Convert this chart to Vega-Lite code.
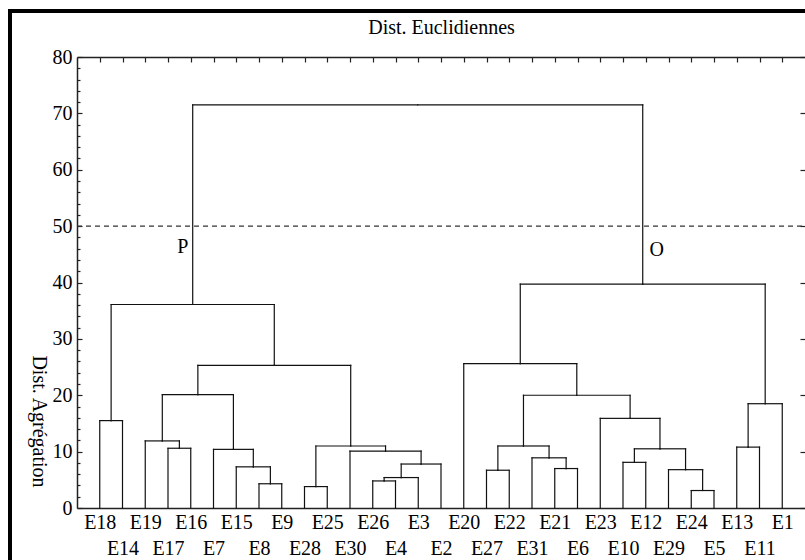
{
  "$schema": "https://vega.github.io/schema/vega-lite/v6.json",
  "autosize": {"type": "none"},
  "padding": {"left": 10, "top": 11, "right": 0, "bottom": 0},
  "width": 810,
  "height": 560,
  "background": "white",
  "config": {
    "view": {"stroke": "black", "strokeWidth": 4},
    "font": "Liberation Serif",
    "style": {"guide-label": {"font": "Liberation Serif", "fontSize": 20, "fill": "black"}, "guide-title": {"font": "Liberation Serif", "fontSize": 20, "fontWeight": "normal", "fill": "black"}},
    "axis": {
      "grid": false,
      "labelFont": "Liberation Serif",
      "labelFontSize": 20,
      "labelColor": "black",
      "titleFont": "Liberation Serif",
      "titleFontSize": 20,
      "titleFontWeight": "normal",
      "titleColor": "black",
      "domainColor": "#222",
      "domainWidth": 1.5,
      "tickColor": "#222",
      "tickWidth": 1.2,
      "labelFlush": false,
      "labelBound": false,
      "labelOverlap": false
    }
  },
  "datasets": {
    "links": [
      {"node": "E18", "cx": 1, "ch": 0, "px": 1.5, "ph": 15.5},
      {"node": "E14", "cx": 2, "ch": 0, "px": 1.5, "ph": 15.5},
      {"node": "E19", "cx": 3, "ch": 0, "px": 3.75, "ph": 11.9},
      {"node": "E17", "cx": 4, "ch": 0, "px": 4.5, "ph": 10.6},
      {"node": "E16", "cx": 5, "ch": 0, "px": 4.5, "ph": 10.6},
      {"node": "E7", "cx": 6, "ch": 0, "px": 6.875, "ph": 10.4},
      {"node": "E15", "cx": 7, "ch": 0, "px": 7.75, "ph": 7.3},
      {"node": "E8", "cx": 8, "ch": 0, "px": 8.5, "ph": 4.3},
      {"node": "E9", "cx": 9, "ch": 0, "px": 8.5, "ph": 4.3},
      {"node": "E28", "cx": 10, "ch": 0, "px": 10.5, "ph": 3.8},
      {"node": "E25", "cx": 11, "ch": 0, "px": 10.5, "ph": 3.8},
      {"node": "E30", "cx": 12, "ch": 0, "px": 13.5625, "ph": 10.1},
      {"node": "E26", "cx": 13, "ch": 0, "px": 13.5, "ph": 4.8},
      {"node": "E4", "cx": 14, "ch": 0, "px": 13.5, "ph": 4.8},
      {"node": "E3", "cx": 15, "ch": 0, "px": 14.25, "ph": 5.4},
      {"node": "E2", "cx": 16, "ch": 0, "px": 15.125, "ph": 7.8},
      {"node": "E20", "cx": 17, "ch": 0, "px": 19.484375, "ph": 25.6},
      {"node": "E27", "cx": 18, "ch": 0, "px": 18.5, "ph": 6.7},
      {"node": "E22", "cx": 19, "ch": 0, "px": 18.5, "ph": 6.7},
      {"node": "E31", "cx": 20, "ch": 0, "px": 20.75, "ph": 8.9},
      {"node": "E21", "cx": 21, "ch": 0, "px": 21.5, "ph": 7.0},
      {"node": "E6", "cx": 22, "ch": 0, "px": 21.5, "ph": 7.0},
      {"node": "E23", "cx": 23, "ch": 0, "px": 24.3125, "ph": 15.9},
      {"node": "E10", "cx": 24, "ch": 0, "px": 24.5, "ph": 8.1},
      {"node": "E12", "cx": 25, "ch": 0, "px": 24.5, "ph": 8.1},
      {"node": "E29", "cx": 26, "ch": 0, "px": 26.75, "ph": 6.8},
      {"node": "E24", "cx": 27, "ch": 0, "px": 27.5, "ph": 3.1},
      {"node": "E5", "cx": 28, "ch": 0, "px": 27.5, "ph": 3.1},
      {"node": "E13", "cx": 29, "ch": 0, "px": 29.5, "ph": 10.8},
      {"node": "E11", "cx": 30, "ch": 0, "px": 29.5, "ph": 10.8},
      {"node": "E1", "cx": 31, "ch": 0, "px": 30.25, "ph": 18.5},
      {"node": "a", "cx": 8.5, "ch": 4.3, "px": 7.75, "ph": 7.3},
      {"node": "b", "cx": 7.75, "ch": 7.3, "px": 6.875, "ph": 10.4},
      {"node": "c", "cx": 6.875, "ch": 10.4, "px": 5.3125, "ph": 20.1},
      {"node": "d", "cx": 4.5, "ch": 10.6, "px": 3.75, "ph": 11.9},
      {"node": "e", "cx": 3.75, "ch": 11.9, "px": 5.3125, "ph": 20.1},
      {"node": "f", "cx": 5.3125, "ch": 20.1, "px": 8.671875, "ph": 25.3},
      {"node": "g", "cx": 10.5, "ch": 3.8, "px": 12.03125, "ph": 11.0},
      {"node": "h", "cx": 13.5, "ch": 4.8, "px": 14.25, "ph": 5.4},
      {"node": "i", "cx": 14.25, "ch": 5.4, "px": 15.125, "ph": 7.8},
      {"node": "j", "cx": 15.125, "ch": 7.8, "px": 13.5625, "ph": 10.1},
      {"node": "k", "cx": 13.5625, "ch": 10.1, "px": 12.03125, "ph": 11.0},
      {"node": "l", "cx": 12.03125, "ch": 11.0, "px": 8.671875, "ph": 25.3},
      {"node": "m", "cx": 8.671875, "ch": 25.3, "px": 5.0859375, "ph": 36.1},
      {"node": "n", "cx": 1.5, "ch": 15.5, "px": 5.0859375, "ph": 36.1},
      {"node": "P", "cx": 5.0859375, "ch": 36.1, "px": 14.9765625, "ph": 71.5},
      {"node": "q", "cx": 18.5, "ch": 6.7, "px": 19.625, "ph": 11.0},
      {"node": "r", "cx": 21.5, "ch": 7.0, "px": 20.75, "ph": 8.9},
      {"node": "s", "cx": 20.75, "ch": 8.9, "px": 19.625, "ph": 11.0},
      {"node": "t", "cx": 19.625, "ch": 11.0, "px": 21.96875, "ph": 20.0},
      {"node": "u", "cx": 27.5, "ch": 3.1, "px": 26.75, "ph": 6.8},
      {"node": "v", "cx": 26.75, "ch": 6.8, "px": 25.625, "ph": 10.5},
      {"node": "w", "cx": 24.5, "ch": 8.1, "px": 25.625, "ph": 10.5},
      {"node": "x", "cx": 25.625, "ch": 10.5, "px": 24.3125, "ph": 15.9},
      {"node": "y", "cx": 24.3125, "ch": 15.9, "px": 21.96875, "ph": 20.0},
      {"node": "z", "cx": 21.96875, "ch": 20.0, "px": 19.484375, "ph": 25.6},
      {"node": "aa", "cx": 19.484375, "ch": 25.6, "px": 24.8671875, "ph": 39.7},
      {"node": "bb", "cx": 29.5, "ch": 10.8, "px": 30.25, "ph": 18.5},
      {"node": "cc", "cx": 30.25, "ch": 18.5, "px": 24.8671875, "ph": 39.7},
      {"node": "O", "cx": 24.8671875, "ch": 39.7, "px": 14.9765625, "ph": 71.5}
    ],
    "notes": [
      {"label": "P", "x": 4.65, "y": 46.3},
      {"label": "O", "x": 25.48, "y": 45.8}
    ],
    "cut": [
      {"from": 0, "to": 32, "h": 50}
    ]
  },
  "layer": [
    {
      "data": {"name": "links"},
      "mark": {"type": "rule", "color": "#111", "strokeWidth": 1.2, "strokeCap": "square"},
      "encoding": {
        "x": {
          "field": "cx", "type": "quantitative",
          "scale": {"domain": [0, 32], "range": [67, 795], "nice": false, "zero": false},
          "axis": {
            "orient": "bottom", "offset": -63, "title": null,
            "values": [1,2,3,4,5,6,7,8,9,10,11,12,13,14,15,16,17,18,19,20,21,22,23,24,25,26,27,28,29,30,31],
            "labelExpr": "['E18','E14','E19','E17','E16','E7','E15','E8','E9','E28','E25','E30','E26','E4','E3','E2','E20','E27','E22','E31','E21','E6','E23','E10','E12','E29','E24','E5','E13','E11','E1'][datum.value - 1]",
            "ticks": false, "tickSize": 0,
            "labelFont": "Liberation Serif", "labelFontSize": 20, "labelColor": "black",
            "labelBaseline": "middle",
            "labelPadding": {"condition": {"test": "datum.value % 2 === 0", "value": 40}, "value": 14}
          }
        },
        "y": {
          "field": "ch", "type": "quantitative",
          "scale": {"domain": [0, 80], "range": [497, 46], "nice": false, "zero": false},
          "axis": {
            "orient": "left", "offset": -67,
            "title": "Dist. Agrégation", "titleAngle": 90, "titleX": -39, "titleY": 410, "titleBaseline": "middle", "titleAlign": "center",
            "titleFont": "Liberation Serif", "titleFontSize": 20,
            "values": [0,2,4,6,8,10,12,14,16,18,20,22,24,26,28,30,32,34,36,38,40,42,44,46,48,50,52,54,56,58,60,62,64,66,68,70,72,74,76,78,80],
            "labelExpr": "datum.value % 10 === 0 ? datum.label : ''",
            "labelFont": "Liberation Serif", "labelFontSize": 20, "labelColor": "black",
            "tickSize": {"condition": {"test": "datum.value % 10 === 0", "value": -5}, "value": -3},
            "labelPadding": 10
          }
        },
        "y2": {"field": "ph"}
      }
    },
    {
      "data": {"name": "links"},
      "mark": {"type": "rule", "color": "#111", "strokeWidth": 1.2, "strokeCap": "square"},
      "encoding": {
        "x": {
          "field": "cx", "type": "quantitative",
          "axis": {
            "orient": "top", "offset": -46,
            "values": [1,2,3,4,5,6,7,8,9,10,11,12,13,14,15,16,17,18,19,20,21,22,23,24,25,26,27,28,29,30,31],
            "labels": false, "tickSize": -5,
            "title": "Dist. Euclidiennes", "titleY": -30, "titleBaseline": "middle",
            "titleFont": "Liberation Serif", "titleFontSize": 20
          }
        },
        "x2": {"field": "px"},
        "y": {
          "field": "ph", "type": "quantitative",
          "axis": {
            "orient": "right", "offset": -15, "title": null, "domain": false,
            "values": [0,10,20,30,40,50,60,70,80],
            "labels": false, "tickSize": -5
          }
        }
      }
    },
    {
      "data": {"name": "cut"},
      "mark": {"type": "rule", "color": "#333", "strokeWidth": 1.3, "strokeDash": [5, 4]},
      "encoding": {
        "x": {"field": "from", "type": "quantitative", "axis": null},
        "x2": {"field": "to"},
        "y": {"field": "h", "type": "quantitative", "axis": null}
      }
    },
    {
      "data": {"name": "notes"},
      "mark": {"type": "text", "fontSize": 20, "font": "Liberation Serif", "color": "black", "baseline": "middle", "align": "center"},
      "encoding": {
        "x": {"field": "x", "type": "quantitative", "axis": null},
        "y": {"field": "y", "type": "quantitative", "axis": null},
        "text": {"field": "label"}
      }
    }
  ],
  "resolve": {"axis": {"x": "independent", "y": "independent"}}
}
